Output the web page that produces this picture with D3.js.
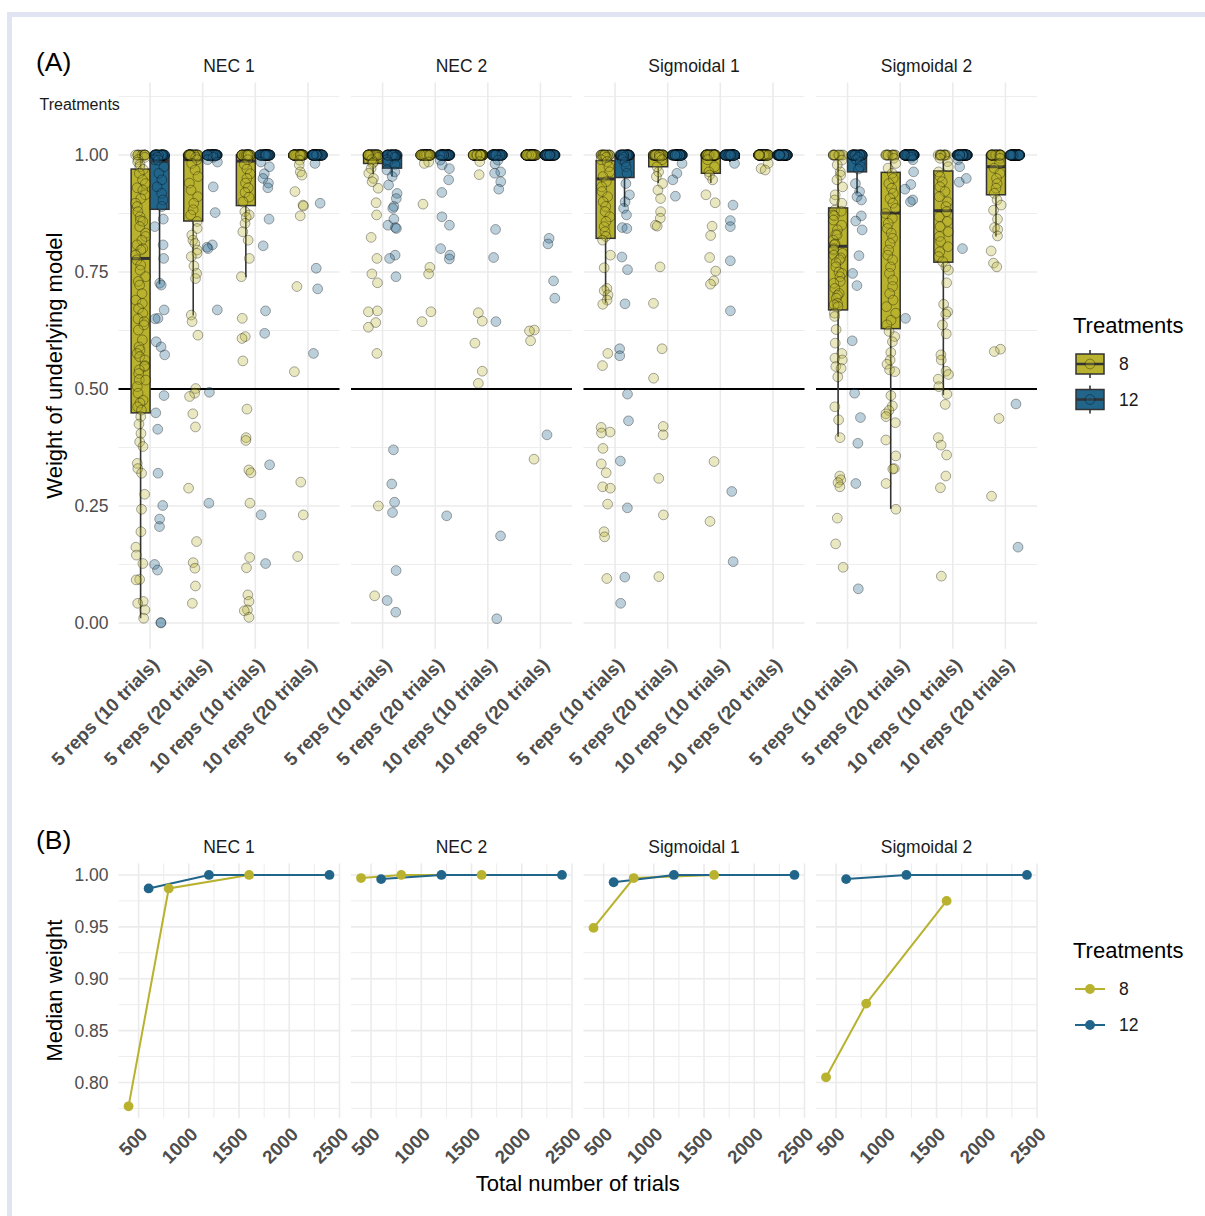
<!DOCTYPE html>
<html>
<head>
<meta charset="utf-8">
<script src="https://cdn.jsdelivr.net/npm/d3@7"></script>
<style>
  body { margin: 0; background: #fff; }
  svg { display: block; }
  text { font-family: "Liberation Sans", Arial, Helvetica, sans-serif; }
</style>
</head>
<body>
<div id="chart"></div>
<script>
// ---------------- data ----------------
const facets = ["NEC 1", "NEC 2", "Sigmoidal 1", "Sigmoidal 2"];
const categories = ["5 reps (10 trials)", "5 reps (20 trials)", "10 reps (10 trials)", "10 reps (20 trials)"];
const treatments = ["8", "12"];

// box statistics per facet and design: [lower whisker, q1, median, q3, upper whisker]
const box8 = [
  [[0.010, 0.449, 0.779, 0.970, 1], [0.657, 0.859, 0.990, 1, 1], [0.739, 0.892, 0.987, 1, 1], [0.990, 0.995, 1, 1, 1]],
  [[0.960, 0.982, 0.997, 1, 1], [1, 1, 1, 1, 1], [1, 1, 1, 1, 1], [1, 1, 1, 1, 1]],
  [[0.683, 0.822, 0.949, 0.988, 1], [0.940, 0.975, 0.997, 1, 1], [0.940, 0.961, 0.995, 1, 1], [1, 1, 1, 1, 1]],
  [[0.398, 0.669, 0.805, 0.887, 1], [0.244, 0.629, 0.876, 0.963, 1], [0.487, 0.771, 0.881, 0.966, 1], [0.826, 0.915, 0.975, 1, 1]]
];
const box12 = [
  [[0.724, 0.884, 0.987, 1, 1], [0.990, 1, 1, 1, 1], [1, 1, 1, 1, 1], [1, 1, 1, 1, 1]],
  [[0.954, 0.972, 0.996, 1, 1], [1, 1, 1, 1, 1], [1, 1, 1, 1, 1], [1, 1, 1, 1, 1]],
  [[0.890, 0.952, 0.993, 1, 1], [1, 1, 1, 1, 1], [0.985, 0.993, 1, 1, 1], [1, 1, 1, 1, 1]],
  [[0.918, 0.964, 0.996, 1, 1], [1, 1, 1, 1, 1], [1, 1, 1, 1, 1], [1, 1, 1, 1, 1]]
];

// number of simulated runs whose weight is exactly 1
const ones8 = [[12, 45, 45, 80], [55, 90, 90, 95], [18, 55, 60, 95], [10, 12, 12, 35]];
const ones12 = [[45, 85, 85, 90], [50, 85, 85, 90], [45, 90, 85, 95], [50, 90, 90, 95]];

// remaining run weights (below 1), one list per design
const weights8_nec1 = [
  [0.995, 0.99, 0.985, 0.98, 0.975, 0.969, 0.961, 0.947, 0.939, 0.93, 0.925, 0.915, 0.907, 0.897, 0.89, 0.879, 0.868, 0.86, 0.858, 0.847, 0.833, 0.826, 0.818, 0.808, 0.80, 0.797, 0.786, 0.776, 0.765, 0.754, 0.74, 0.73, 0.722, 0.704, 0.69, 0.683, 0.672, 0.662, 0.65, 0.644, 0.637, 0.626, 0.605, 0.59, 0.583, 0.576, 0.569, 0.562, 0.55, 0.548, 0.541, 0.533, 0.52, 0.519, 0.505, 0.491, 0.476, 0.47, 0.462, 0.455, 0.441, 0.425, 0.405, 0.387, 0.377, 0.341, 0.33, 0.32, 0.275, 0.243, 0.195, 0.162, 0.145, 0.127, 0.093, 0.092, 0.046, 0.042, 0.028, 0.010],
  [0.995, 0.99, 0.982, 0.968, 0.954, 0.94, 0.925, 0.911, 0.897, 0.883, 0.872, 0.858, 0.843, 0.829, 0.818, 0.811, 0.797, 0.79, 0.783, 0.763, 0.747, 0.736, 0.658, 0.644, 0.615, 0.501, 0.491, 0.484, 0.447, 0.419, 0.288, 0.174, 0.129, 0.117, 0.079, 0.042],
  [0.99, 0.98, 0.97, 0.96, 0.95, 0.94, 0.93, 0.92, 0.91, 0.90, 0.879, 0.872, 0.867, 0.854, 0.836, 0.818, 0.779, 0.74, 0.651, 0.612, 0.608, 0.56, 0.457, 0.396, 0.39, 0.327, 0.321, 0.256, 0.14, 0.118, 0.06, 0.046, 0.028, 0.026, 0.012],
  [0.989, 0.979, 0.964, 0.957, 0.922, 0.893, 0.891, 0.87, 0.719, 0.537, 0.301, 0.231, 0.142]
];
const weights12_nec1 = [
  [0.995, 0.99, 0.989, 0.975, 0.961, 0.947, 0.932, 0.918, 0.904, 0.89, 0.863, 0.847, 0.808, 0.779, 0.726, 0.722, 0.669, 0.651, 0.65, 0.601, 0.59, 0.573, 0.486, 0.449, 0.414, 0.32, 0.251, 0.222, 0.206, 0.125, 0.113, 0.001, 0.0],
  [0.995, 0.99, 0.985, 0.932, 0.877, 0.808, 0.803, 0.80, 0.669, 0.493, 0.256],
  [0.985, 0.975, 0.96, 0.95, 0.94, 0.93, 0.863, 0.806, 0.667, 0.619, 0.338, 0.231, 0.127],
  [0.982, 0.897, 0.758, 0.714, 0.576]
];
const weights8_nec2 = [
  [0.995, 0.99, 0.985, 0.982, 0.971, 0.961, 0.95, 0.943, 0.929, 0.898, 0.872, 0.824, 0.779, 0.746, 0.727, 0.667, 0.665, 0.642, 0.632, 0.576, 0.25, 0.058],
  [0.985, 0.982, 0.895, 0.76, 0.746, 0.665, 0.644],
  [0.986, 0.958, 0.663, 0.645, 0.598, 0.538, 0.512],
  [0.626, 0.624, 0.603, 0.35]
];
const weights12_nec2 = [
  [0.995, 0.99, 0.985, 0.98, 0.968, 0.964, 0.954, 0.936, 0.918, 0.907, 0.89, 0.886, 0.863, 0.85, 0.845, 0.843, 0.786, 0.779, 0.74, 0.37, 0.297, 0.258, 0.236, 0.112, 0.048, 0.023],
  [0.989, 0.979, 0.971, 0.947, 0.92, 0.868, 0.85, 0.80, 0.786, 0.778, 0.229],
  [0.989, 0.981, 0.964, 0.961, 0.943, 0.927, 0.841, 0.781, 0.644, 0.186, 0.009],
  [0.822, 0.81, 0.731, 0.694, 0.402]
];
const weights8_sig1 = [
  [0.995, 0.99, 0.986, 0.975, 0.964, 0.954, 0.943, 0.932, 0.922, 0.911, 0.90, 0.89, 0.879, 0.868, 0.858, 0.847, 0.836, 0.826, 0.818, 0.786, 0.759, 0.715, 0.71, 0.701, 0.69, 0.681, 0.576, 0.55, 0.418, 0.408, 0.406, 0.373, 0.34, 0.321, 0.291, 0.288, 0.254, 0.195, 0.184, 0.095],
  [0.995, 0.99, 0.975, 0.964, 0.954, 0.939, 0.925, 0.907, 0.879, 0.865, 0.85, 0.848, 0.761, 0.683, 0.586, 0.523, 0.42, 0.402, 0.309, 0.231, 0.099],
  [0.99, 0.975, 0.964, 0.957, 0.947, 0.915, 0.898, 0.848, 0.828, 0.781, 0.752, 0.731, 0.724, 0.345, 0.217],
  [0.982, 0.971, 0.968]
];
const weights12_sig1 = [
  [0.995, 0.99, 0.985, 0.975, 0.961, 0.939, 0.915, 0.90, 0.886, 0.872, 0.845, 0.843, 0.782, 0.755, 0.682, 0.586, 0.571, 0.489, 0.432, 0.346, 0.246, 0.098, 0.042],
  [0.982, 0.961, 0.947, 0.912],
  [0.982, 0.893, 0.86, 0.847, 0.774, 0.667, 0.281, 0.131],
  []
];
const weights8_sig2 = [
  [0.989, 0.979, 0.964, 0.957, 0.947, 0.932, 0.915, 0.904, 0.897, 0.882, 0.88, 0.872, 0.87, 0.861, 0.85, 0.84, 0.83, 0.829, 0.818, 0.81, 0.808, 0.80, 0.797, 0.79, 0.786, 0.78, 0.776, 0.77, 0.761, 0.75, 0.747, 0.74, 0.73, 0.726, 0.715, 0.704, 0.70, 0.694, 0.683, 0.68, 0.676, 0.662, 0.655, 0.627, 0.598, 0.576, 0.566, 0.562, 0.548, 0.544, 0.526, 0.462, 0.434, 0.396, 0.314, 0.306, 0.30, 0.291, 0.224, 0.169, 0.119],
  [0.993, 0.982, 0.972, 0.961, 0.95, 0.939, 0.929, 0.918, 0.907, 0.897, 0.886, 0.875, 0.865, 0.854, 0.843, 0.833, 0.822, 0.811, 0.797, 0.786, 0.776, 0.761, 0.747, 0.733, 0.719, 0.704, 0.69, 0.676, 0.662, 0.647, 0.637, 0.623, 0.612, 0.601, 0.578, 0.562, 0.553, 0.541, 0.537, 0.486, 0.464, 0.454, 0.447, 0.441, 0.428, 0.391, 0.357, 0.33, 0.329, 0.298, 0.243],
  [0.993, 0.986, 0.975, 0.964, 0.954, 0.943, 0.932, 0.922, 0.911, 0.90, 0.89, 0.879, 0.868, 0.858, 0.847, 0.836, 0.826, 0.815, 0.804, 0.793, 0.783, 0.772, 0.761, 0.754, 0.727, 0.681, 0.665, 0.66, 0.637, 0.618, 0.573, 0.562, 0.538, 0.531, 0.521, 0.505, 0.489, 0.467, 0.396, 0.38, 0.359, 0.314, 0.289, 0.10],
  [0.993, 0.982, 0.972, 0.961, 0.95, 0.939, 0.929, 0.918, 0.904, 0.893, 0.882, 0.863, 0.845, 0.841, 0.827, 0.795, 0.769, 0.761, 0.585, 0.58, 0.437, 0.271]
];
const weights12_sig2 = [
  [0.995, 0.99, 0.985, 0.975, 0.97, 0.939, 0.922, 0.911, 0.904, 0.87, 0.859, 0.84, 0.785, 0.747, 0.721, 0.603, 0.491, 0.439, 0.384, 0.298, 0.073],
  [0.995, 0.99, 0.964, 0.937, 0.927, 0.904, 0.90, 0.651],
  [0.99, 0.975, 0.95, 0.942, 0.80],
  [0.468, 0.162]
];
const weights8 = [weights8_nec1, weights8_nec2, weights8_sig1, weights8_sig2];
const weights12 = [weights12_nec1, weights12_nec2, weights12_sig1, weights12_sig2];

// median weight against total number of trials
const trials8 = [400, 800, 1600];
const trials12 = [600, 1200, 2400];
const median8 = [[0.777, 0.987, 1.0], [0.997, 1.0, 1.0], [0.949, 0.997, 1.0], [0.805, 0.876, 0.975]];
const median12 = [[0.987, 1.0, 1.0], [0.996, 1.0, 1.0], [0.993, 1.0, 1.0], [0.996, 1.0, 1.0]];

// ---------------- styling ----------------
const fillColor = { "8": "#b8b22e", "12": "#22658a" };
const gridCol = "#ebebeb";
const tickCol = "#4d4d4d";
const W = 1205, H = 1216;

const svg = d3.select("#chart").append("svg").attr("width", W).attr("height", H);
svg.append("rect").attr("width", W).attr("height", H).attr("fill", "#fff");
// figure frame
svg.append("rect").attr("x", 9.5).attr("y", 14.5).attr("width", 1400).attr("height", 1400)
  .attr("fill", "none").attr("stroke", "#e1e5f3").attr("stroke-width", 5);

const panelW = 221, panelGap = 11.5, panelX0 = 118.5;
const fx = d3.scaleBand().domain(facets)
  .range([panelX0, panelX0 + 4 * panelW + 3 * panelGap])
  .paddingInner(panelGap / (panelW + panelGap));

function styleTicks(g, size, bold) {
  g.select(".domain").remove();
  g.selectAll(".tick line").remove();
  g.selectAll("text").attr("fill", tickCol).attr("font-size", size)
    .attr("font-family", "'Liberation Sans', Arial, sans-serif")
    .attr("font-weight", bold ? "bold" : "normal");
}

// ================= Panel A: weights per design =================
const aTop = 82.5, aBottom = 648.7;
const yA = d3.scaleLinear().domain([-0.055, 1.155]).range([aBottom, aTop]);
const xA = d3.scalePoint().domain(categories).range([0, panelW]).padding(0.6);
const stepA = xA.step();
const dodge = d3.scaleBand().domain(treatments).range([-0.36 * stepA, 0.36 * stepA]);
const rng = d3.randomLcg(0.4217);
const jitterW = 0.1 * stepA;
const ptR = 4.9;

svg.append("text").attr("x", 36).attr("y", 71).attr("font-size", 26.5).attr("fill", "#000").text("(A)");
svg.append("text").attr("x", 39.5).attr("y", 109.5).attr("font-size", 16).attr("fill", "#1a1a1a").text("Treatments");

facets.forEach((f, fi) => {
  const g = svg.append("g").attr("transform", `translate(${fx(f)},0)`);
  // grid
  g.selectAll(".hmin").data([0.125, 0.375, 0.625, 0.875, 1.125]).join("line")
    .attr("x1", 0).attr("x2", panelW).attr("y1", d => yA(d)).attr("y2", d => yA(d))
    .attr("stroke", gridCol).attr("stroke-width", 0.9);
  g.selectAll(".hmaj").data([0, 0.25, 0.5, 0.75, 1]).join("line")
    .attr("x1", 0).attr("x2", panelW).attr("y1", d => yA(d)).attr("y2", d => yA(d))
    .attr("stroke", gridCol).attr("stroke-width", 1.6);
  g.selectAll(".vmaj").data(categories).join("line")
    .attr("x1", d => xA(d)).attr("x2", d => xA(d)).attr("y1", aTop).attr("y2", aBottom)
    .attr("stroke", gridCol).attr("stroke-width", 1.6);
  // reference line at 0.5
  g.append("line").attr("x1", 0).attr("x2", panelW).attr("y1", yA(0.5)).attr("y2", yA(0.5))
    .attr("stroke", "#000").attr("stroke-width", 2);

  // boxes
  treatments.forEach((t, ti) => {
    const stats = (ti === 0 ? box8 : box12)[fi];
    categories.forEach((c, ci) => {
      const [lo, q1, med, q3, hi] = stats[ci];
      const x0 = xA(c) + dodge(t), bw = dodge.bandwidth(), cx = x0 + bw / 2;
      const bg = g.append("g");
      bg.append("line").attr("x1", cx).attr("x2", cx).attr("y1", yA(hi)).attr("y2", yA(q3))
        .attr("stroke", "#333").attr("stroke-width", 1.6);
      bg.append("line").attr("x1", cx).attr("x2", cx).attr("y1", yA(q1)).attr("y2", yA(lo))
        .attr("stroke", "#333").attr("stroke-width", 1.6);
      bg.append("rect").attr("x", x0).attr("y", yA(q3)).attr("width", bw)
        .attr("height", Math.max(0, yA(q1) - yA(q3)))
        .attr("fill", fillColor[t]).attr("stroke", "#333").attr("stroke-width", 1.5);
      bg.append("line").attr("x1", x0).attr("x2", x0 + bw).attr("y1", yA(med)).attr("y2", yA(med))
        .attr("stroke", "#333").attr("stroke-width", 3);
    });
  });

  // jittered runs
  treatments.forEach((t, ti) => {
    const lists = (ti === 0 ? weights8 : weights12)[fi];
    const nOnes = (ti === 0 ? ones8 : ones12)[fi];
    categories.forEach((c, ci) => {
      const vals = d3.range(nOnes[ci]).map(() => 1).concat(lists[ci]);
      const cx = xA(c) + dodge(t) + dodge.bandwidth() / 2;
      g.append("g").selectAll("circle").data(vals).join("circle")
        .attr("cx", () => cx + (rng() * 2 - 1) * jitterW)
        .attr("cy", d => yA(d))
        .attr("r", ptR)
        .attr("fill", fillColor[t]).attr("fill-opacity", 0.3)
        .attr("stroke", "#000").attr("stroke-opacity", 0.33).attr("stroke-width", 1);
    });
  });

  // y tick labels on first facet only
  if (fi === 0) {
    const ya = g.append("g").call(d3.axisLeft(yA).tickValues([0, 0.25, 0.5, 0.75, 1]).tickFormat(d3.format(".2f")).tickSize(0).tickPadding(10));
    styleTicks(ya, 17.5, false);
  }
  // x tick labels
  const xa = g.append("g").attr("transform", `translate(0,${aBottom + 8})`)
    .call(d3.axisBottom(xA).tickSize(0));
  styleTicks(xa, 18.6, true);
  xa.selectAll("text").attr("y", 0).attr("x", 0).attr("dy", "0.72em")
    .attr("text-anchor", "end").attr("transform", "rotate(-45)");

  // strip title
  svg.append("text").attr("x", fx(f) + panelW / 2).attr("y", 72).attr("text-anchor", "middle")
    .attr("font-size", 17.5).attr("fill", "#1a1a1a").text(f);
});

svg.append("text").attr("transform", `translate(62,${(aTop + aBottom) / 2}) rotate(-90)`)
  .attr("text-anchor", "middle").attr("font-size", 22).attr("fill", "#000").text("Weight of underlying model");

// legend A
const legA = svg.append("g");
legA.append("text").attr("x", 1073).attr("y", 333).attr("font-size", 22).attr("fill", "#000").text("Treatments");
treatments.forEach((t, i) => {
  const cy = 364 + i * 35.5;
  legA.append("line").attr("x1", 1090).attr("x2", 1090).attr("y1", cy - 14).attr("y2", cy + 14)
    .attr("stroke", "#333").attr("stroke-width", 1.6);
  legA.append("rect").attr("x", 1076).attr("y", cy - 10).attr("width", 28).attr("height", 20)
    .attr("fill", fillColor[t]).attr("stroke", "#333").attr("stroke-width", 1.5);
  legA.append("line").attr("x1", 1076).attr("x2", 1104).attr("y1", cy).attr("y2", cy)
    .attr("stroke", "#333").attr("stroke-width", 2.5);
  legA.append("circle").attr("cx", 1090).attr("cy", cy).attr("r", ptR)
    .attr("fill", fillColor[t]).attr("fill-opacity", 0.3)
    .attr("stroke", "#000").attr("stroke-opacity", 0.33);
  legA.append("text").attr("x", 1119).attr("y", cy).attr("dy", "0.36em")
    .attr("font-size", 17.5).attr("fill", "#1a1a1a").text(t);
});

// ================= Panel B: median weight vs trials =================
const bTop = 863.4, bBottom = 1117.9;
const yB = d3.scaleLinear().domain([0.76585, 1.01115]).range([bBottom, bTop]);
const xB = d3.scaleLinear().domain([300, 2500]).range([0, panelW]);

svg.append("text").attr("x", 36).attr("y", 849).attr("font-size", 26.5).attr("fill", "#000").text("(B)");

facets.forEach((f, fi) => {
  const g = svg.append("g").attr("transform", `translate(${fx(f)},0)`);
  g.selectAll(".hmin").data([0.775, 0.825, 0.875, 0.925, 0.975]).join("line")
    .attr("x1", 0).attr("x2", panelW).attr("y1", d => yB(d)).attr("y2", d => yB(d))
    .attr("stroke", gridCol).attr("stroke-width", 0.9);
  g.selectAll(".vmin").data([750, 1250, 1750, 2250]).join("line")
    .attr("x1", d => xB(d)).attr("x2", d => xB(d)).attr("y1", bTop).attr("y2", bBottom)
    .attr("stroke", gridCol).attr("stroke-width", 0.9);
  g.selectAll(".hmaj").data([0.8, 0.85, 0.9, 0.95, 1.0]).join("line")
    .attr("x1", 0).attr("x2", panelW).attr("y1", d => yB(d)).attr("y2", d => yB(d))
    .attr("stroke", gridCol).attr("stroke-width", 1.6);
  g.selectAll(".vmaj").data([500, 1000, 1500, 2000, 2500]).join("line")
    .attr("x1", d => xB(d)).attr("x2", d => xB(d)).attr("y1", bTop).attr("y2", bBottom)
    .attr("stroke", gridCol).attr("stroke-width", 1.6);

  const series = [
    { t: "8", pts: trials8.map((x, i) => [x, median8[fi][i]]) },
    { t: "12", pts: trials12.map((x, i) => [x, median12[fi][i]]) }
  ];
  const line = d3.line().x(d => xB(d[0])).y(d => yB(d[1]));
  series.forEach(s => {
    g.append("path").attr("d", line(s.pts)).attr("fill", "none")
      .attr("stroke", fillColor[s.t]).attr("stroke-width", 2);
  });
  series.forEach(s => {
    g.append("g").selectAll("circle").data(s.pts).join("circle")
      .attr("cx", d => xB(d[0])).attr("cy", d => yB(d[1])).attr("r", 4.9)
      .attr("fill", fillColor[s.t]);
  });

  if (fi === 0) {
    const ya = g.append("g").call(d3.axisLeft(yB).tickValues([0.8, 0.85, 0.9, 0.95, 1.0]).tickFormat(d3.format(".2f")).tickSize(0).tickPadding(10));
    styleTicks(ya, 17.5, false);
  }
  const xa = g.append("g").attr("transform", `translate(0,${bBottom + 8})`)
    .call(d3.axisBottom(xB).tickValues([500, 1000, 1500, 2000, 2500]).tickFormat(d3.format("d")).tickSize(0));
  styleTicks(xa, 18.6, true);
  xa.selectAll("text").attr("y", 0).attr("x", 0).attr("dy", "0.72em")
    .attr("text-anchor", "end").attr("transform", "rotate(-45)");

  svg.append("text").attr("x", fx(f) + panelW / 2).attr("y", 852.5).attr("text-anchor", "middle")
    .attr("font-size", 17.5).attr("fill", "#1a1a1a").text(f);
});

svg.append("text").attr("transform", `translate(62,${(bTop + bBottom) / 2}) rotate(-90)`)
  .attr("text-anchor", "middle").attr("font-size", 22).attr("fill", "#000").text("Median weight");
svg.append("text").attr("x", (fx(facets[0]) + fx(facets[3]) + panelW) / 2).attr("y", 1191)
  .attr("text-anchor", "middle").attr("font-size", 22).attr("fill", "#000").text("Total number of trials");

// legend B
const legB = svg.append("g");
legB.append("text").attr("x", 1073).attr("y", 958).attr("font-size", 22).attr("fill", "#000").text("Treatments");
treatments.forEach((t, i) => {
  const cy = 989 + i * 36;
  legB.append("line").attr("x1", 1075).attr("x2", 1105).attr("y1", cy).attr("y2", cy)
    .attr("stroke", fillColor[t]).attr("stroke-width", 2);
  legB.append("circle").attr("cx", 1090).attr("cy", cy).attr("r", 4.9).attr("fill", fillColor[t]);
  legB.append("text").attr("x", 1119).attr("y", cy).attr("dy", "0.36em")
    .attr("font-size", 17.5).attr("fill", "#1a1a1a").text(t);
});
</script>
</body>
</html>
